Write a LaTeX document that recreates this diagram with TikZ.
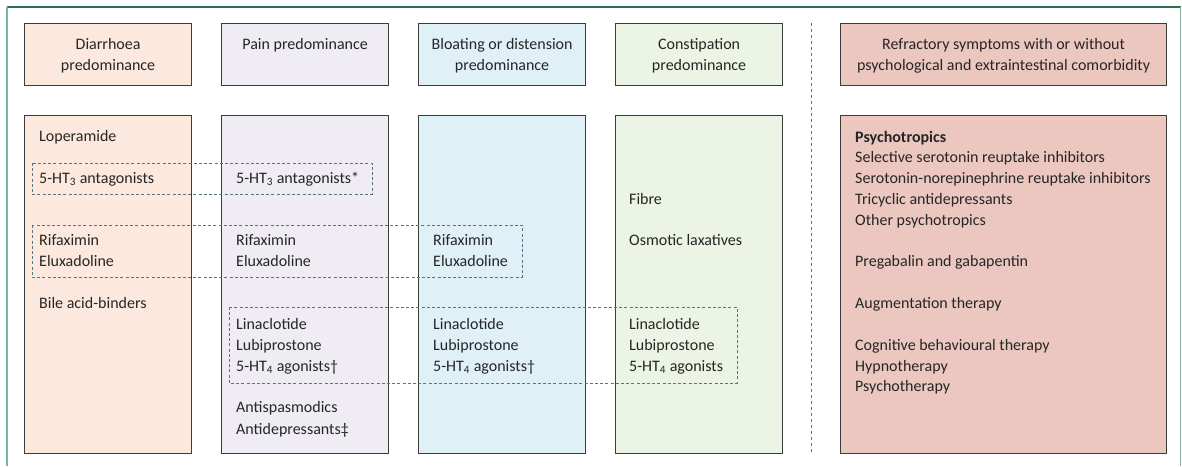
\documentclass[tikz,border=0pt]{standalone}
\usepackage{fontspec}
\setmainfont{Carlito}
\usetikzlibrary{positioning}
\definecolor{diacol}{HTML}{FCE8DD}
\definecolor{paincol}{HTML}{EFECF4}
\definecolor{bloatcol}{HTML}{DFF0F7}
\definecolor{constcol}{HTML}{ECF4E6}
\definecolor{refcol}{HTML}{ECC7BF}
\definecolor{edgecol}{HTML}{3C3C3C}
\definecolor{dashcol}{HTML}{557585}
\definecolor{topgreen}{HTML}{2E6E4C}
\definecolor{sidegreen}{HTML}{79B899}
\tikzset{
  box/.style={draw=edgecol, line width=1.2pt, anchor=north west, inner sep=0pt},
  hdr/.style={align=center, inner sep=0pt, text=black!85, font=\fontsize{16}{21}\selectfont},
  drug/.style={anchor=base west, inner sep=0pt, text=black!85, font=\fontsize{16}{21}\selectfont},
  grp/.style={draw=dashcol, line width=0.8pt, dash pattern=on 3pt off 2.2pt}
}

\begin{document}
\begin{tikzpicture}[x=1pt,y=-1pt]
\useasboundingbox (0,0) rectangle (1182,466);
\draw[topgreen, line width=1.3pt] (7,7) -- (1180.5,7);
\draw[sidegreen, line width=1.5pt] (7,7) -- (7,466) (1180.5,7) -- (1180.5,466);

\foreach \n/\c [count=\i from 0] in {dia/diacol, pain/paincol, bloat/bloatcol, const/constcol} {
	\node[box, fill=\c, minimum width=167pt, minimum height=62pt] (h\n) at (24+\i*197,23) {};
	\node[box, fill=\c, minimum width=167pt, minimum height=338pt] (c\n) at (24+\i*197,115) {};
}
\node[box, fill=refcol, minimum width=326pt, minimum height=62pt] (href) at (840,23) {};
\node[box, fill=refcol, minimum width=326pt, minimum height=338pt] (cref) at (840,115) {};

\coordinate (divtop) at (811,23);
\coordinate (divbot) at (811,453);
\draw[dashcol, line width=1pt, dash pattern=on 3pt off 3pt] (divtop) -- (divbot);

\draw[grp] (32,163) rectangle (372,194);
\draw[grp] (32,225) rectangle (522,277);
\draw[grp] (229,307) rectangle (737,383);

% two-line headers sit on their last baseline
\node[hdr, below=47pt of hdia.north, anchor=base] (tdia) {Diarrhoea\\predominance};
\node[hdr, below=26pt of hpain.north, anchor=base] (tpain) {Pain predominance};
\node[hdr, below=47pt of hbloat.north, anchor=base] (tbloat) {Bloating or distension\\predominance};
\node[hdr, below=47pt of hconst.north, anchor=base] (tconst) {Constipation\\predominance};
\node[hdr, below=47pt of href.north, anchor=base] (tref) {Refractory symptoms with or without\\psychological and extraintestinal comorbidity};

\foreach \y/\t [count=\k] in {141/Loperamide, 183/5-HT\textsubscript{3} antagonists, 245/Rifaximin, 266/Eluxadoline, 308/Bile acid-binders}
	\node[drug] (dia\k) at (39,\y) {\t};
\foreach \y/\t [count=\k] in {183/5-HT\textsubscript{3} antagonists*, 245/Rifaximin, 266/Eluxadoline, 329/Linaclotide, 350/Lubiprostone, 371/5-HT\textsubscript{4} agonists\textdagger, 412/Antispasmodics, 434/Antidepressants\textdaggerdbl}
	\node[drug] (pain\k) at (236,\y) {\t};
\foreach \y/\t [count=\k] in {245/Rifaximin, 266/Eluxadoline, 329/Linaclotide, 350/Lubiprostone, 371/5-HT\textsubscript{4} agonists\textdagger}
	\node[drug] (bloat\k) at (433,\y) {\t};
\foreach \y/\t [count=\k] in {204/Fibre, 245/Osmotic laxatives, 329/Linaclotide, 350/Lubiprostone, 371/5-HT\textsubscript{4} agonists}
	\node[drug] (const\k) at (629,\y) {\t};
\foreach \y/\t [count=\k] in {142/\textbf{Psychotropics}, 162/Selective serotonin reuptake inhibitors, 183/Serotonin-norepinephrine reuptake inhibitors, 204/Tricyclic antidepressants, 225/Other psychotropics, 266/Pregabalin and gabapentin, 308/Augmentation therapy, 350/Cognitive behavioural therapy, 371/Hypnotherapy, 391/Psychotherapy}
	\node[drug] (ref\k) at (855,\y) {\t};
\end{tikzpicture}
\end{document}
